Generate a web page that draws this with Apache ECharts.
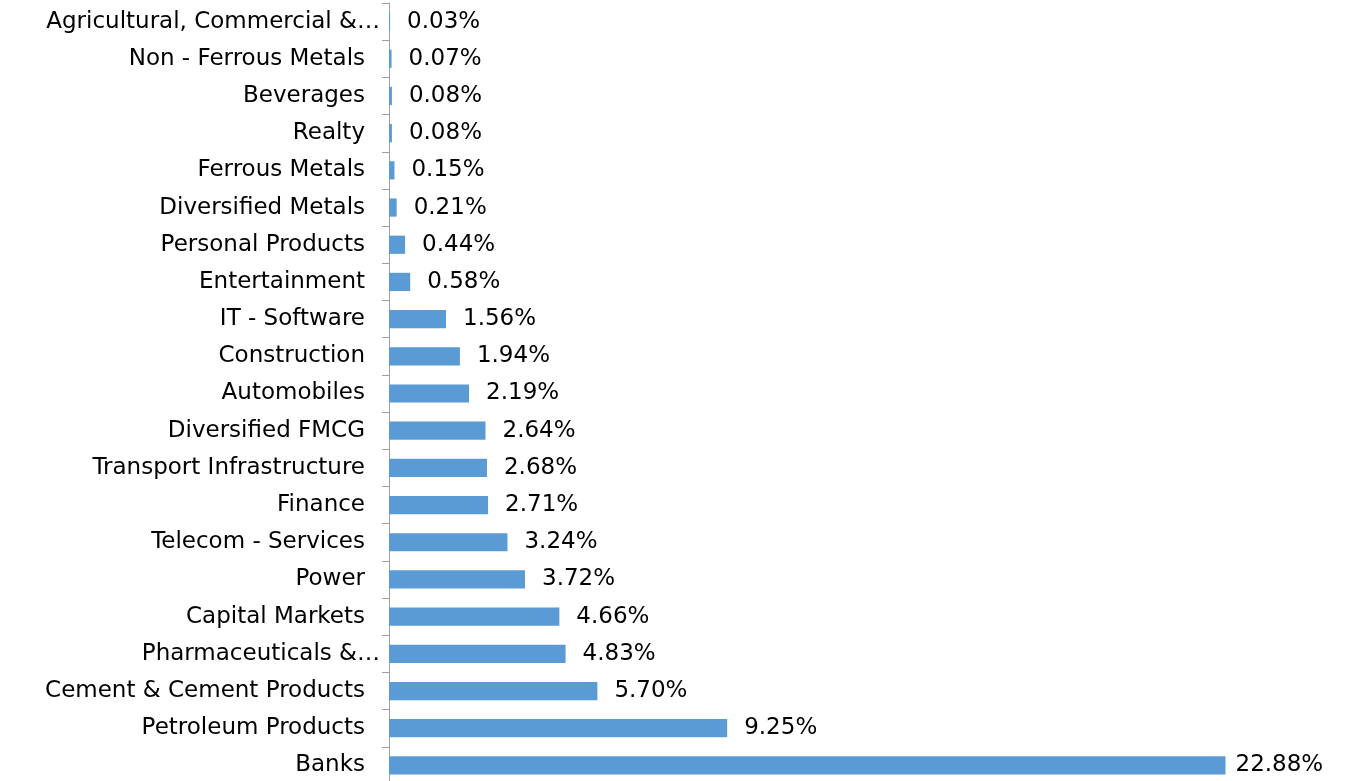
<!DOCTYPE html>
<html>
<head>
<meta charset="utf-8">
<script src="https://cdn.jsdelivr.net/npm/echarts@6/dist/echarts.min.js"></script>
<style>
  html, body { margin: 0; padding: 0; background: #fff; }
  #main { width: 1347px; height: 781px; }
</style>
</head>
<body>
<div id="main"></div>
<script>
// sectors, bottom to top
var sectors = [
  'Banks', 'Petroleum Products', 'Cement & Cement Products', 'Pharmaceuticals &…',
  'Capital Markets', 'Power', 'Telecom - Services', 'Finance',
  'Transport Infrastructure', 'Diversified FMCG', 'Automobiles', 'Construction',
  'IT - Software', 'Entertainment', 'Personal Products', 'Diversified Metals',
  'Ferrous Metals', 'Realty', 'Beverages', 'Non - Ferrous Metals',
  'Agricultural, Commercial &…'
];
var weights = [
  22.88, 9.25, 5.70, 4.83, 4.66, 3.72, 3.24, 2.71, 2.68, 2.64, 2.19, 1.94,
  1.56, 0.58, 0.44, 0.21, 0.15, 0.08, 0.08, 0.07, 0.03
];

var FONT = 'DejaVu Sans';
var myChart = echarts.init(document.getElementById('main'));

var barData = weights.map(function (v, i) {
  // the biggest bar label sits a bit closer in the original
  if (i === 0) return {value: v, label: {distance: 10}};
  return v;
});

var option = {
  animation: false,
  textStyle: {fontFamily: FONT},
  grid: {
    left: 389, top: 3, width: 914, height: 781,
    containLabel: false,
    outerBoundsMode: 'none'
  },
  xAxis: {
    type: 'value',
    min: 0,
    max: 25,
    show: false
  },
  yAxis: {
    type: 'category',
    data: sectors,
    axisLine: {show: true, lineStyle: {color: '#a0a0a0', width: 1}},
    axisTick: {show: true, length: 7, lineStyle: {color: '#a0a0a0'}},
    axisLabel: {
      margin: 9,
      color: '#000',
      fontSize: 23,
      formatter: function (v) {
        if (v.indexOf('…') >= 0) return '{t|' + v + '}';
        return '{n|' + v + '}';
      },
      rich: {
        n: {fontSize: 23, color: '#000', fontFamily: FONT, padding: [0, 15, 0, 0]},
        t: {fontSize: 23, color: '#000', fontFamily: FONT}
      }
    }
  },
  series: [{
    type: 'bar',
    data: barData,
    barWidth: '49%',
    itemStyle: {color: '#5b9bd5'},
    label: {
      show: true,
      position: 'right',
      distance: 17,
      color: '#000',
      fontSize: 23,
      fontFamily: FONT,
      formatter: function (p) { return p.value.toFixed(2) + '%'; }
    }
  }]
};

myChart.setOption(option, true);
</script>
</body>
</html>
